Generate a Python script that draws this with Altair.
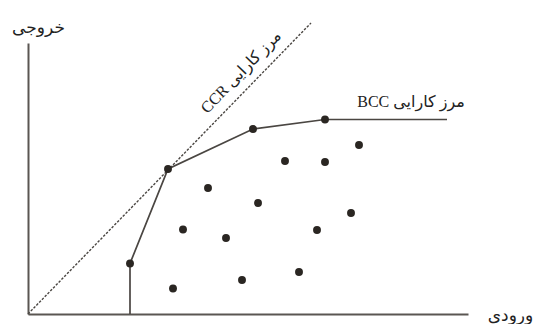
import altair as alt
import pandas as pd

# ---- data (units: input on x, output on y) ----
pts_x = [10.2, 14.0, 22.5, 29.7, 14.5, 15.5, 18.0, 19.8, 21.4, 23.0, 25.7, 29.7, 33.1, 28.9, 32.3, 27.1]
pts_y = [5.05, 14.5, 18.5, 19.45, 2.55, 8.45, 12.6, 7.6, 3.4, 11.1, 15.3, 15.2, 16.9, 8.4, 10.1, 4.2]

bcc_x = [10.2, 10.2, 14.0, 22.5, 29.7, 41.9]
bcc_y = [0.0, 5.05, 14.5, 18.5, 19.45, 19.45]

ccr_x = [0.0, 28.3]
ccr_y = [0.0, 29.1]

label_text = ["خروجی", "ورودی", "BCC مرز کارایی"]
label_x = [1.05, 48.25, 38.3]
label_y = [28.6, -0.2, 21.2]

ccr_label = ["CCR مرز کارایی"]
ccr_label_x = [21.3]
ccr_label_y = [24.2]

X_DOMAIN = [0, 44]
Y_DOMAIN = [0, 27.1]

pts = pd.DataFrame({"x": pts_x, "y": pts_y})
bcc = pd.DataFrame({"x": bcc_x, "y": bcc_y, "o": list(range(len(bcc_x)))})
ccr = pd.DataFrame({"x": ccr_x, "y": ccr_y, "o": list(range(len(ccr_x)))})
labels = pd.DataFrame({"x": label_x, "y": label_y, "t": label_text})
clab = pd.DataFrame({"x": ccr_label_x, "y": ccr_label_y, "t": ccr_label})

axis_style = dict(domain=True, domainColor="#5a5652", domainWidth=2,
                  labels=False, ticks=False, grid=False, title=None)

xs = alt.Scale(domain=X_DOMAIN, nice=False, zero=False)
ys = alt.Scale(domain=Y_DOMAIN, nice=False, zero=False)

ccr_line = alt.Chart(ccr).mark_line(color="#4a4642", strokeWidth=1.4, strokeDash=[2.5, 1.5]).encode(
    x=alt.X("x:Q", scale=xs, axis=alt.Axis(**axis_style)),
    y=alt.Y("y:Q", scale=ys, axis=alt.Axis(**axis_style)),
    order="o:Q",
)

bcc_line = alt.Chart(bcc).mark_line(color="#4a4642", strokeWidth=1.7).encode(
    x=alt.X("x:Q", scale=xs),
    y=alt.Y("y:Q", scale=ys),
    order="o:Q",
)

dots = alt.Chart(pts).mark_circle(size=62, color="#2a2622", opacity=1).encode(
    x=alt.X("x:Q", scale=xs),
    y=alt.Y("y:Q", scale=ys),
)

axis_titles = alt.Chart(labels.iloc[:2]).mark_text(
    font="Liberation Serif, DejaVu Sans", fontSize=17, color="#222222",
    align="center", baseline="middle",
).encode(
    x=alt.X("x:Q", scale=xs),
    y=alt.Y("y:Q", scale=ys),
    text="t:N",
)

bcc_text = alt.Chart(labels.iloc[2:]).mark_text(
    font="Liberation Serif, DejaVu Sans", fontSize=16, color="#222222",
    align="center", baseline="middle",
).encode(
    x=alt.X("x:Q", scale=xs),
    y=alt.Y("y:Q", scale=ys),
    text="t:N",
)

ccr_text = alt.Chart(clab).mark_text(
    font="Liberation Serif, DejaVu Sans", fontSize=16, color="#222222",
    align="center", baseline="middle", angle=314,
).encode(
    x=alt.X("x:Q", scale=xs),
    y=alt.Y("y:Q", scale=ys),
    text="t:N",
)

chart = alt.layer(ccr_line, bcc_line, dots, axis_titles, bcc_text, ccr_text).properties(
    width=440, height=271,
    autosize=alt.AutoSizeParams(type="none"),
    padding={"left": 20, "top": 35, "right": 67, "bottom": 10},
).configure_view(stroke=None)

chart.save("out.html", embed_options={"renderer": "svg", "actions": False})
